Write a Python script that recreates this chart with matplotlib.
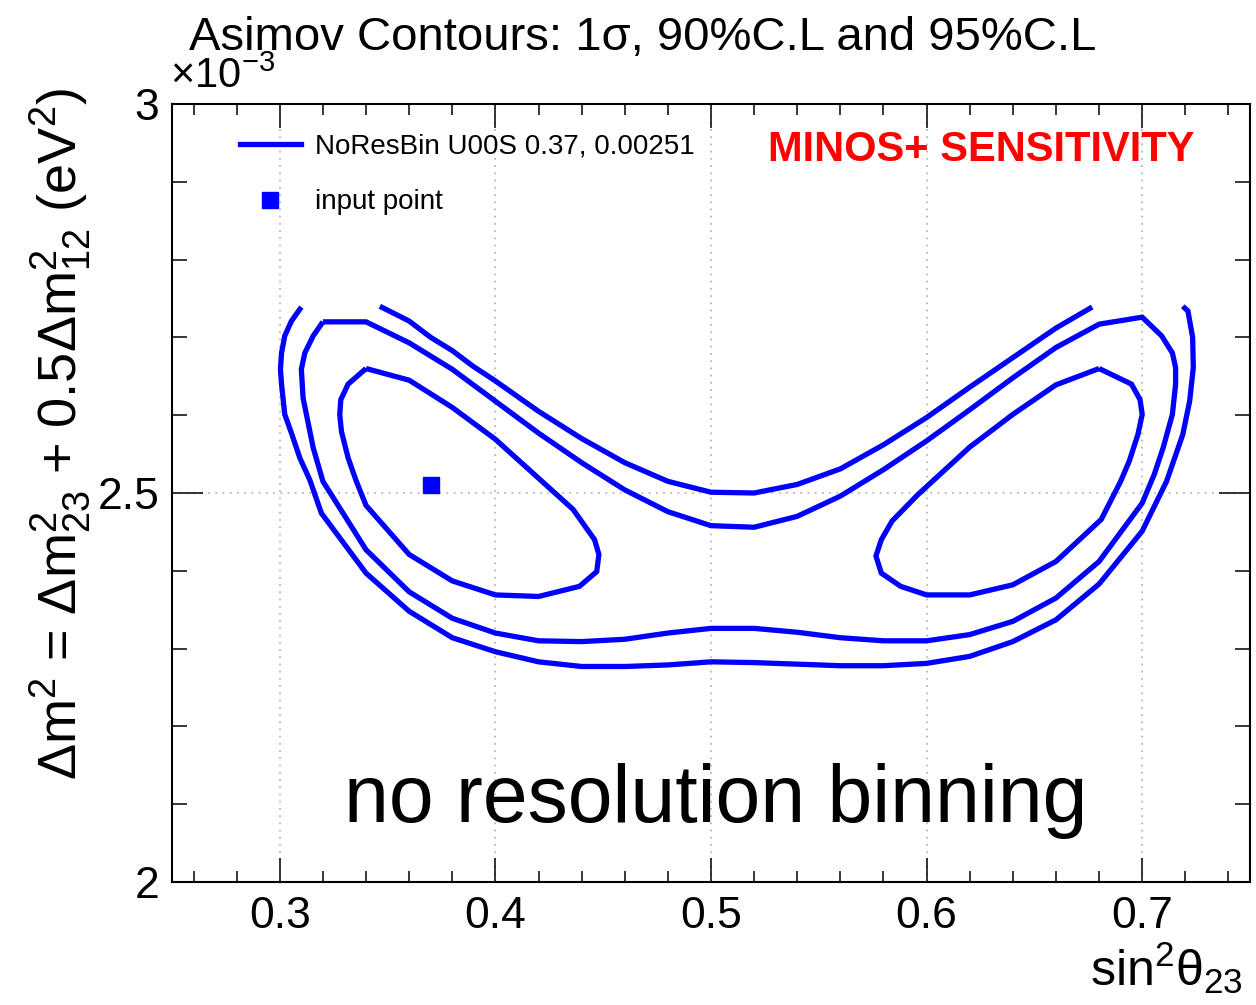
import numpy as np
import matplotlib
matplotlib.use("Agg")
import matplotlib.pyplot as plt
from matplotlib.ticker import MultipleLocator, FuncFormatter
from matplotlib.lines import Line2D

plt.rcParams["font.family"] = ["Liberation Sans", "DejaVu Sans"]
plt.rcParams["mathtext.fontset"] = "custom"
plt.rcParams["mathtext.rm"] = "Liberation Sans"
plt.rcParams["mathtext.it"] = "Liberation Sans:italic"
plt.rcParams["mathtext.bf"] = "Liberation Sans:bold"

# === Contour points: x = sin^2(theta23), y = dm^2 in units of 1e-3 eV^2 ===
# 1 sigma, left lobe
one_sig_left_x = [0.34, 0.36, 0.38, 0.40, 0.42, 0.436, 0.446, 0.448, 0.447, 0.439, 0.42,
                  0.40, 0.38, 0.36, 0.34, 0.3355, 0.3317, 0.3286, 0.3278, 0.3283, 0.3317, 0.34]
one_sig_left_y = [2.660, 2.645, 2.610, 2.569, 2.519, 2.479, 2.440, 2.421, 2.399, 2.380, 2.367,
                  2.369, 2.387, 2.421, 2.484, 2.515, 2.545, 2.579, 2.601, 2.620, 2.640, 2.660]

# 1 sigma, right lobe
one_sig_right_x = [0.68, 0.695, 0.699, 0.700, 0.698, 0.694, 0.690, 0.681, 0.66, 0.64, 0.62, 0.60,
                   0.588, 0.579, 0.5765, 0.579, 0.584, 0.590, 0.596, 0.62, 0.64, 0.66, 0.68]
one_sig_right_y = [2.660, 2.640, 2.620, 2.601, 2.575, 2.541, 2.515, 2.466, 2.412, 2.382, 2.369, 2.369,
                   2.380, 2.397, 2.419, 2.440, 2.464, 2.481, 2.498, 2.559, 2.601, 2.639, 2.660]

# 90% C.L.
cl90_x = [0.32, 0.34, 0.36, 0.38, 0.40, 0.42, 0.44, 0.46, 0.48, 0.50, 0.52, 0.54, 0.56, 0.58,
          0.60, 0.62, 0.64, 0.66, 0.68, 0.70, 0.709, 0.714, 0.7155, 0.7155, 0.714, 0.7097,
          0.7056, 0.70, 0.68, 0.66, 0.64, 0.62, 0.60, 0.58, 0.56, 0.54, 0.52, 0.50, 0.48,
          0.46, 0.44, 0.42, 0.40, 0.38, 0.36, 0.34, 0.32, 0.3155, 0.3108, 0.3100, 0.3116,
          0.3155, 0.32]
cl90_y = [2.720, 2.720, 2.693, 2.659, 2.618, 2.577, 2.539, 2.504, 2.476, 2.458, 2.456, 2.470,
          2.496, 2.530, 2.567, 2.607, 2.648, 2.687, 2.717, 2.726, 2.702, 2.680, 2.661, 2.640,
          2.601, 2.558, 2.524, 2.487, 2.412, 2.365, 2.335, 2.318, 2.310, 2.310, 2.314, 2.321,
          2.326, 2.326, 2.320, 2.312, 2.309, 2.310, 2.320, 2.339, 2.373, 2.427, 2.515, 2.558,
          2.622, 2.659, 2.680, 2.702, 2.720]

# 95% C.L., outer branch (open at the top edge of the scan)
cl95_out_x = [0.310, 0.3054, 0.3023, 0.3008, 0.3003, 0.3008, 0.3023, 0.3054, 0.3093, 0.3139,
              0.3193, 0.34, 0.36, 0.38, 0.40, 0.42, 0.44, 0.46, 0.48, 0.50, 0.52, 0.54, 0.56,
              0.58, 0.60, 0.62, 0.64, 0.66, 0.68, 0.70, 0.7113, 0.7188, 0.722, 0.7237, 0.7234,
              0.7212, 0.7188]
cl95_out_y = [2.739, 2.721, 2.702, 2.680, 2.659, 2.640, 2.601, 2.577, 2.545, 2.517, 2.474,
              2.397, 2.348, 2.314, 2.296, 2.283, 2.277, 2.277, 2.279, 2.283, 2.282, 2.280,
              2.278, 2.278, 2.281, 2.290, 2.309, 2.337, 2.383, 2.451, 2.515, 2.575, 2.618,
              2.661, 2.700, 2.734, 2.740]

# 95% C.L., inner branch
cl95_in_x = [0.3464, 0.36, 0.370, 0.38, 0.3896, 0.40, 0.42, 0.44, 0.46, 0.48, 0.50, 0.52,
             0.54, 0.56, 0.58, 0.60, 0.62, 0.64, 0.66, 0.6768]
cl95_in_y = [2.740, 2.721, 2.700, 2.683, 2.663, 2.644, 2.605, 2.570, 2.539, 2.515, 2.501,
             2.500, 2.511, 2.531, 2.562, 2.597, 2.636, 2.674, 2.712, 2.739]

# input point (sin^2, dm^2 / 1e-3)
input_x = [0.37]
input_y = [2.51]

legend_labels = ["NoResBin U00S 0.37, 0.00251", "input point"]

# === Figure ===
fig = plt.figure(figsize=(12.56, 10.05), dpi=100)
ax = fig.add_axes([172 / 1256, 123 / 1005, 1078 / 1256, 778 / 1005])

blue = "#0000ff"
lw = 3.8
for xs, ys in [(one_sig_left_x, one_sig_left_y), (one_sig_right_x, one_sig_right_y),
               (cl90_x, cl90_y), (cl95_out_x, cl95_out_y), (cl95_in_x, cl95_in_y)]:
    ax.plot(xs, ys, color=blue, lw=lw, solid_joinstyle="miter", solid_capstyle="butt")

ax.plot(input_x, input_y, "s", color=blue, ms=12, mec=blue)

ax.set_xlim(0.25, 0.75)
ax.set_ylim(2.0, 3.0)

ax.xaxis.set_major_locator(MultipleLocator(0.1))
ax.xaxis.set_minor_locator(MultipleLocator(0.02))
ax.yaxis.set_major_locator(MultipleLocator(0.5))
ax.yaxis.set_minor_locator(MultipleLocator(0.1))
ax.xaxis.set_major_formatter(FuncFormatter(lambda v, p: f"{v:g}"))
ax.yaxis.set_major_formatter(FuncFormatter(lambda v, p: f"{v:g}"))

ax.tick_params(which="both", direction="in", top=True, right=True, width=1.1,
               labelsize=32, colors="black")
ax.tick_params(axis="x", which="major", length=17, pad=10)
ax.tick_params(axis="x", which="minor", length=8)
ax.tick_params(axis="y", which="major", length=22, pad=9)
ax.tick_params(axis="y", which="minor", length=11)
for s in ax.spines.values():
    s.set_linewidth(1.5)

ax.grid(True, which="major", linestyle=(0, (1, 3)), color="#b8b8b8", lw=1.3)
ax.set_axisbelow(True)

# labels
fig.text(643 / 1256, 1 - 38 / 1005, "Asimov Contours: 1σ, 90%C.L and 95%C.L",
         fontsize=34, ha="center", va="center")
fig.text(170 / 1256, 1 - 97 / 1005, r"×10$^{-3}$", fontsize=30, ha="left", va="bottom")
fig.text(61 / 1256, 1 - 434 / 1005,
         r"Δm$^{2}$ = Δm$^{2}_{23}$ + 0.5Δm$^{2}_{12}$ (eV$^{2}$)",
         fontsize=39, rotation=90, ha="center", va="center")
fig.text(1243 / 1256, 1 - 968 / 1005, r"sin$^{2}$θ$_{23}$", fontsize=36,
         ha="right", va="center")

ax.text(0.553, 0.941, "MINOS+ SENSITIVITY", transform=ax.transAxes, color="#ff0000",
        fontsize=30, fontweight="bold", ha="left", va="center")
ax.text(0.160, 0.077, "no resolution binning", transform=ax.transAxes,
        fontsize=58, ha="left", va="baseline")

handles = [Line2D([], [], color=blue, lw=lw),
           Line2D([], [], color=blue, marker="s", ls="none", ms=12)]
ax.legend(handles, legend_labels, loc="upper left", bbox_to_anchor=(0.063, 0.962),
          frameon=False, fontsize=20, handlelength=2.2, handletextpad=0.5,
          labelspacing=1.07, borderpad=0, borderaxespad=0)

fig.savefig("out.png", dpi=100)
